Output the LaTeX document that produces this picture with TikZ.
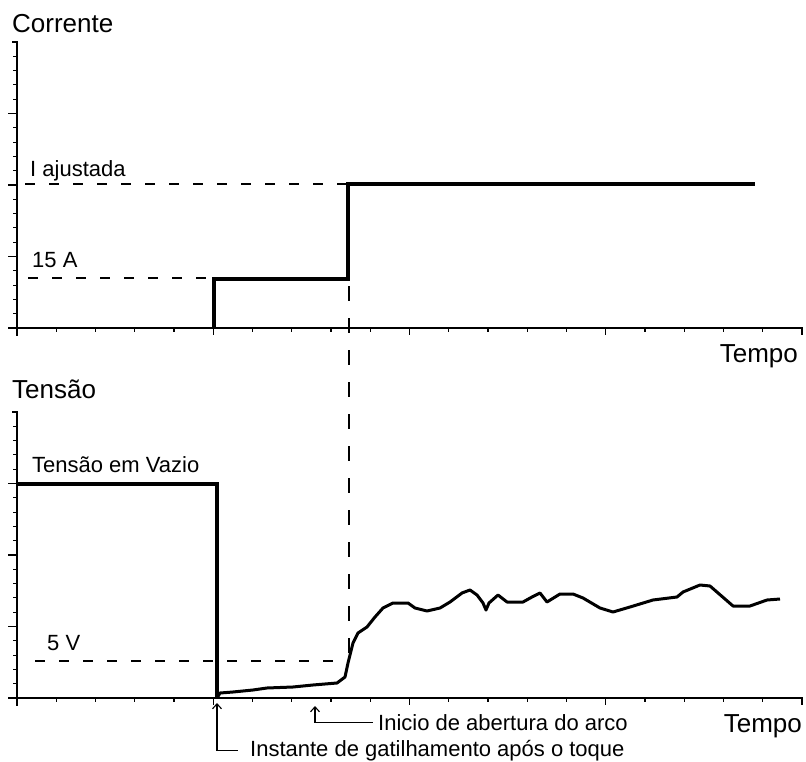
\documentclass[tikz,border=0pt]{standalone}
\usepackage{fontspec}
\setmainfont{Liberation Sans}
\usetikzlibrary{arrows.meta}

\begin{document}
\begin{tikzpicture}[x=1pt,y=-1pt,
  axis/.style={line width=1.1pt},
  step line/.style={line width=4pt},
  arc line/.style={line width=3pt,line join=round},
  hguide/.style={line width=1.1pt,dash pattern=on 10pt off 14pt},
  vguide/.style={line width=1.1pt,dash pattern=on 15pt off 17pt},
  pointer/.style={line width=1.1pt,{Straight Barb[length=5pt,width=9pt]}-},
  big label/.style={font=\fontsize{26}{31}\selectfont,inner sep=0pt,anchor=base west},
  small label/.style={font=\fontsize{22}{26}\selectfont,inner sep=0pt,anchor=base west}]

  \useasboundingbox (0,0) rectangle (806,762);

  \foreach \oy in {0,370} {
    \draw[axis] (12,42+\oy) -- (17,42+\oy) -- (17,336+\oy);
    \draw[axis] (8,328+\oy) -- (802,328+\oy) -- (802,335+\oy);
    \foreach \k in {1,...,19} \draw[axis] (17+39.25*\k,328+\oy) -- ++(0,4);
    \foreach \k in {5,10,15} \draw[axis] (17+39.25*\k,328+\oy) -- ++(0,7);
    \foreach \k in {1,...,19} \draw[axis] (17,328+\oy-14.3*\k) -- ++(-4,0);
    \foreach \k in {1,2,3} \draw[axis] (17,328+\oy-71.5*\k) -- ++(-9,0);
  }

  \node[big label] (corr) at (12,33) {Corrente};
  \node[big label,anchor=base east] (tempo1) at (798,362) {Tempo};
  \node[small label] (iaj) at (30,177) {I ajustada};
  \node[small label] (i15) at (32,268) {15 A};

  \coordinate (on) at (214,328);
  \coordinate (arc) at (348,184);
  \draw[hguide] (25,184) -- (arc);
  \draw[hguide] (28,278) -- (214,278);
  \draw[step line] (on) -- (214,279) -- (348,279) -- (arc) -- (755,184);

  \node[big label] (tens) at (12,398) {Tensão};
  \node[big label,anchor=base east] (tempo2) at (802,732) {Tempo};
  \node[small label] (vazio) at (32,472) {Tensão em Vazio};
  \node[small label] (v5) at (47,650) {5 V};

  \coordinate (trig) at (217,698);
  \coordinate (cross) at (349,661);
  \draw[vguide] (349,190) -- (cross);
  \draw[hguide] (35,661) -- (cross);
  \draw[step line] (17,484) -- (217,484) -- (trig);
  \draw[arc line] (trig) -- (220,693) -- (233,692) -- (253,690) -- (267,688)
    -- (293,687) -- (313,685) -- (337,683) -- (345,677) -- (348,663)
    -- (353,643) -- (358,633) -- (367,627) -- (375,617) -- (383,608)
    -- (393,603) -- (408,603) -- (415,608) -- (427,611) -- (440,608)
    -- (450,602) -- (462,593) -- (470,590) -- (477,595) -- (483,603)
    -- (486,610) -- (489,603) -- (498,595) -- (507,602) -- (523,602)
    -- (532,597) -- (540,593) -- (547,602) -- (560,594) -- (573,594)
    -- (583,598) -- (600,608) -- (613,612) -- (630,607) -- (653,600)
    -- (677,597) -- (683,592) -- (700,585) -- (710,586) -- (733,606)
    -- (750,606) -- (767,600) -- (780,599);

  \node[small label] (inicio) at (378,730) {Inicio de abertura do arco};
  \node[small label] (instante) at (250,756) {Instante de gatilhamento após o toque};
  \draw[pointer] (315,706) |- ([xshift=-5pt]inicio.west);
  \draw[pointer] (217,703) |- ([xshift=-12pt]instante.west);
\end{tikzpicture}
\end{document}
